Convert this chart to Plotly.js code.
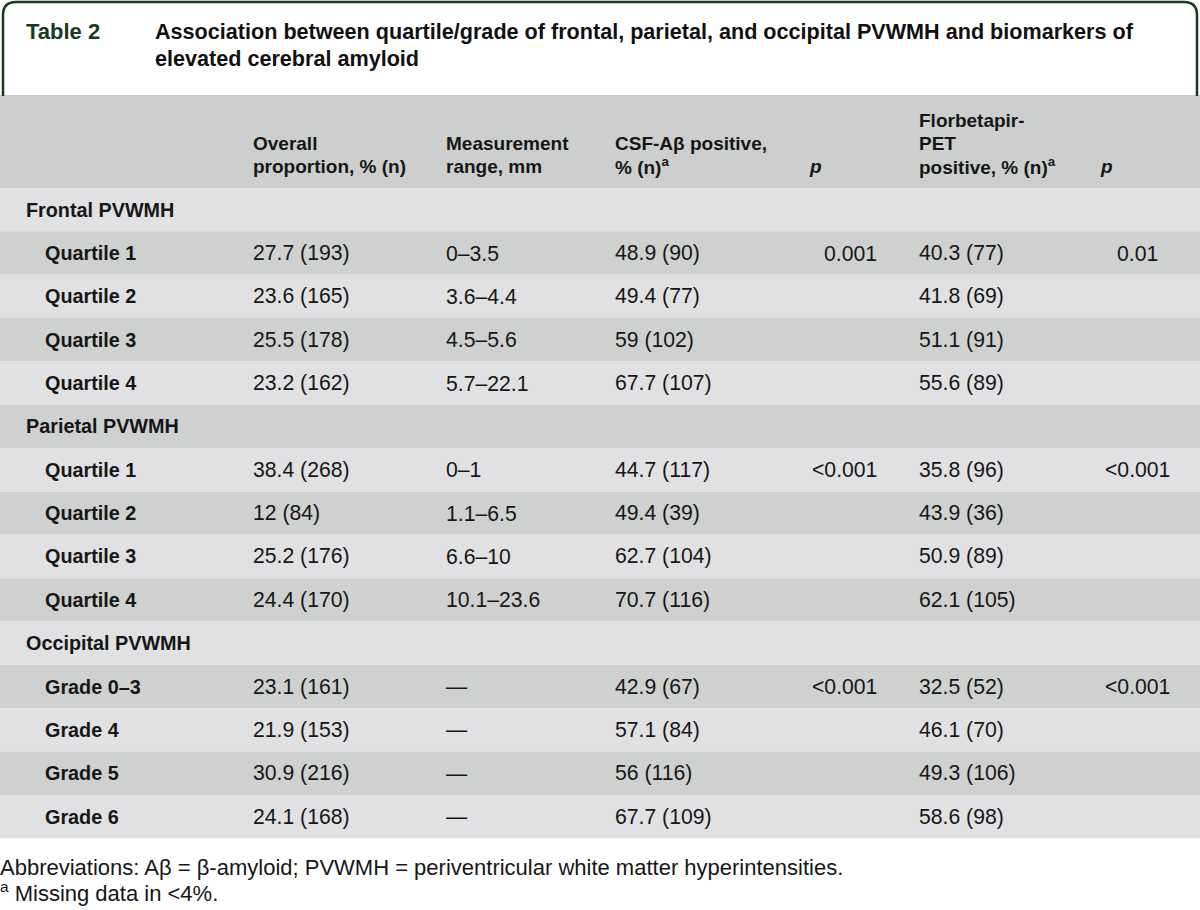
<!DOCTYPE html>
<html>
<head>
<meta charset="utf-8">
<script src="https://cdn.plot.ly/plotly-3.0.1.min.js"></script>
<style>html,body{margin:0;padding:0;background:#fff;}#chart{width:1200px;height:910px;}</style>
</head>
<body>
<div id="chart"></div>
<script>
// ---- Data ----
const tableNumber = "Table 2";
const tableTitle = ["Association between quartile/grade of frontal, parietal, and occipital PVWMH and biomarkers of",
                    "elevated cerebral amyloid"];
const headers = [[], ["Overall", "proportion, % (n)"], ["Measurement", "range, mm"], ["CSF-Aβ positive,", "% (n)<sup>a</sup>"],
                 ["<i>p</i>"], ["Florbetapir-", "PET", "positive, % (n)<sup>a</sup>"], ["<i>p</i>"]];
const rowLabels = ["Frontal PVWMH", "Quartile 1", "Quartile 2", "Quartile 3", "Quartile 4",
                   "Parietal PVWMH", "Quartile 1", "Quartile 2", "Quartile 3", "Quartile 4",
                   "Occipital PVWMH", "Grade 0–3", "Grade 4", "Grade 5", "Grade 6"];
const isSection = [true, false, false, false, false, true, false, false, false, false, true, false, false, false, false];
const overallProportion = ["", "27.7 (193)", "23.6 (165)", "25.5 (178)", "23.2 (162)",
                           "", "38.4 (268)", "12 (84)", "25.2 (176)", "24.4 (170)",
                           "", "23.1 (161)", "21.9 (153)", "30.9 (216)", "24.1 (168)"];
const measurementRange = ["", "0–3.5", "3.6–4.4", "4.5–5.6", "5.7–22.1",
                          "", "0–1", "1.1–6.5", "6.6–10", "10.1–23.6",
                          "", "—", "—", "—", "—"];
const csfPositive = ["", "48.9 (90)", "49.4 (77)", "59 (102)", "67.7 (107)",
                     "", "44.7 (117)", "49.4 (39)", "62.7 (104)", "70.7 (116)",
                     "", "42.9 (67)", "57.1 (84)", "56 (116)", "67.7 (109)"];
const csfP = ["", "0.001", "", "", "", "", "<0.001", "", "", "", "", "<0.001", "", "", ""];
const petPositive = ["", "40.3 (77)", "41.8 (69)", "51.1 (91)", "55.6 (89)",
                     "", "35.8 (96)", "43.9 (36)", "50.9 (89)", "62.1 (105)",
                     "", "32.5 (52)", "46.1 (70)", "49.3 (106)", "58.6 (98)"];
const petP = ["", "0.01", "", "", "", "", "<0.001", "", "", "", "", "<0.001", "", "", ""];
const footnotes = ["Abbreviations: Aβ = β-amyloid; PVWMH = periventricular white matter hyperintensities.",
                   "<sup>a</sup> Missing data in <4%."];

// ---- Layout helpers ----
const W = 1200, H = 910;
const rowTop = 188, rowH = 43.35;
const headerTop = 95;
const TXT = "#161616", GREEN = "#173a22";
const FONT = "Liberation Sans, Arial, sans-serif";
const LIGHT = "#e1e1e3", DARK = "#cfd0d0", HEAD = "#cdcfce";
const esc = s => s.replace(/<(?![\/a-z])/g, "&lt;");
const rowY = i => rowTop + (i + 0.5) * rowH;
const PAD = 2; // annotation inner padding compensation (applied as pixel shift)

const shapes = [];
const annotations = [];
function addText(x, y, text, font, anchor, shift) {
  annotations.push({x, y, xref: "x", yref: "y", xanchor: anchor || "left", yanchor: "middle", showarrow: false,
    align: "left", xshift: shift === undefined ? -PAD : shift, text, font});
}

// header band
shapes.push({type: "rect", xref: "x", yref: "y", x0: 0, x1: W, y0: headerTop, y1: rowTop, fillcolor: HEAD, line: {width: 0}, layer: "below"});
// row bands
rowLabels.forEach((_, i) => {
  shapes.push({type: "rect", xref: "x", yref: "y", x0: 0, x1: W, y0: rowTop + i * rowH, y1: rowTop + (i + 1) * rowH,
               fillcolor: i % 2 === 0 ? LIGHT : DARK, line: {width: 0}, layer: "below"});
});
// title box outline (rounded top corners)
shapes.push({type: "path", xref: "x", yref: "y",
  path: "M 3,96 L 3,15 Q 3,2 16,2 L 1184,2 Q 1197,2 1197,15 L 1197,96",
  line: {color: GREEN, width: 2.5}, fillcolor: "rgba(0,0,0,0)"});

// title
addText(26, 31, "<b>" + tableNumber + "</b>", {family: FONT, size: 22, color: GREEN});
tableTitle.forEach((line, k) => {
  addText(155, 31 + k * 27, "<b>" + line + "</b>", {family: FONT, size: 21.6, color: "#111"});
});

// header cells
const colX = [26, 253, 446, 615, 809, 919, 1100];
headers.forEach((lines, c) => {
  const n = lines.length;
  lines.forEach((h, k) => {
    addText(colX[c], 166 - (n - 1 - k) * 23, "<b>" + h + "</b>", {family: FONT, size: 19, color: TXT});
  });
});

// body cells
const bodyFont = {family: FONT, size: 21.2, color: TXT};
rowLabels.forEach((lab, i) => {
  const y = rowY(i);
  addText(isSection[i] ? 26 : 45, y, "<b>" + lab + "</b>", {family: FONT, size: 19.8, color: TXT});
  const cells = [[overallProportion[i], 253, "left", -PAD], [measurementRange[i], 446, "left", -PAD], [csfPositive[i], 615, "left", -PAD],
                 [csfP[i], 877, "right", PAD], [petPositive[i], 919, "left", -PAD], [petP[i], 1137, "center", 0]];
  cells.forEach(([t, x, anchor, sh]) => {
    if (!t) return;
    addText(x, y, esc(t), bodyFont, anchor, sh);
  });
});

// footnotes
footnotes.forEach((f, k) => {
  addText(1, 867 + k * 25, esc(f), {family: FONT, size: 22, color: TXT}, "left", -3);
});

const layout = {
  width: W, height: H,
  margin: {l: 0, r: 0, t: 0, b: 0, pad: 0},
  paper_bgcolor: "#fff", plot_bgcolor: "#fff",
  xaxis: {range: [0, W], visible: false, fixedrange: true},
  yaxis: {range: [H, 0], visible: false, fixedrange: true},
  showlegend: false,
  shapes, annotations
};
Plotly.newPlot("chart", [{x: [], y: [], type: "scatter", mode: "markers"}], layout, {staticPlot: true, displayModeBar: false});
</script>
</body>
</html>
